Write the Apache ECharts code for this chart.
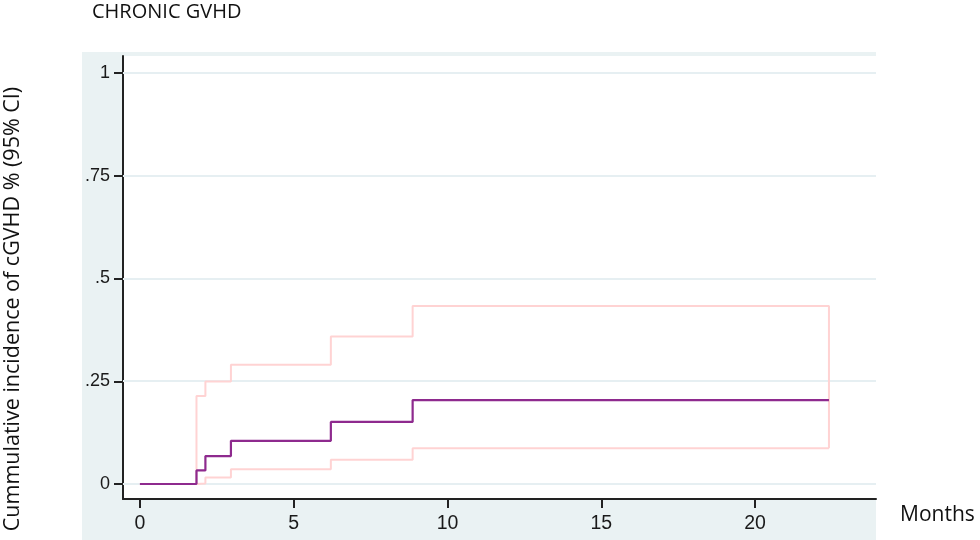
<!DOCTYPE html>
<html>
<head>
<meta charset="utf-8">
<script src="https://cdn.jsdelivr.net/npm/echarts@6/dist/echarts.min.js"></script>
<style>html,body{margin:0;padding:0;background:#fff}#c{width:980px;height:540px}</style>
</head>
<body>
<div id="c"></div>
<script>
// Step times (months) and values
const times = [0, 1.84, 2.13, 2.96, 6.21, 8.87, 22.41];
const cif   = [0, 0.033, 0.068, 0.105, 0.151, 0.204, 0.204];
const upper = [0, 0.214, 0.249, 0.290, 0.359, 0.433, 0.433];
const lower = [0, 0.001, 0.016, 0.036, 0.059, 0.087, 0.087];
const xTicks = [0, 5, 10, 15, 20];
const yTicks = [0, 0.25, 0.5, 0.75, 1];
const yTickLabels = ['0', '.25', '.5', '.75', '1'];

const pairs = (xs, ys) => xs.map((x, i) => [x, ys[i]]);
// CI outline: upper path, then vertical drop at the end to the lower path end
const upperPath = pairs(times, upper).concat([[times[times.length - 1], lower[lower.length - 1]]]);
const lowerPath = pairs(times, lower);

const chart = echarts.init(document.getElementById('c'), null, {renderer: 'canvas'});
const axisColor = '#222';
const xLabelStyle = {fontSize: 19.5, fontFamily: 'Liberation Sans', color: '#1a1a1a'};
const yLabelStyle = {fontSize: 18, fontFamily: 'Liberation Sans', color: '#1a1a1a'};
chart.setOption({
  animation: false,
  backgroundColor: '#ffffff',
  textStyle: {fontFamily: 'Liberation Sans'},
  graphic: [
    {type: 'rect', left: 82, top: 52, shape: {width: 794, height: 488}, style: {fill: '#EAF2F3'}, z: -10},
    {type: 'text', left: 92, top: 2, style: {text: 'CHRONIC GVHD', font: '20px "Open Sans"', fill: '#111'}},
    {type: 'text', left: 900, top: 505, style: {text: 'Months', font: '21px "Open Sans"', fill: '#111'}},
    {type: 'text', x: 13, y: 309, rotation: Math.PI / 2,
     style: {text: 'Cummulative incidence of cGVHD % (95% CI)', font: '21.5px "Open Sans"', fill: '#111', align: 'center', verticalAlign: 'middle'}}
  ],
  grid: [
    // plotting region (white), full data extent incl. margins
    {left: 123, right: 104, top: 56, bottom: 41, show: true, backgroundColor: '#ffffff', borderWidth: 0},
    // tick/label frame spanning exactly the tick range
    {left: 140, right: 225, top: 73, bottom: 56, show: false}
  ],
  xAxis: [
    {gridIndex: 0, type: 'value', min: -0.55, max: 23.94,
     axisLine: {show: true, onZero: false, lineStyle: {color: axisColor, width: 2}},
     axisTick: {show: false}, axisLabel: {show: false}, splitLine: {show: false}},
    {gridIndex: 1, type: 'value', min: xTicks[0], max: xTicks[xTicks.length - 1], interval: 5, offset: 15,
     axisLine: {show: false, onZero: false},
     axisTick: {show: true, length: 9, lineStyle: {color: axisColor, width: 2}},
     axisLabel: Object.assign({show: true, margin: 15, textStyle: xLabelStyle}, xLabelStyle),
     splitLine: {show: false}}
  ],
  yAxis: [
    {gridIndex: 0, type: 'value', min: -0.0365, max: 1.041,
     axisLine: {show: true, onZero: false, lineStyle: {color: axisColor, width: 2}},
     axisTick: {show: false}, axisLabel: {show: false}, splitLine: {show: false}},
    {gridIndex: 1, type: 'value', min: yTicks[0], max: yTicks[yTicks.length - 1], interval: 0.25, offset: 17,
     axisLine: {show: false, onZero: false},
     axisTick: {show: true, length: 9, lineStyle: {color: axisColor, width: 2}},
     axisLabel: Object.assign({show: true, margin: 13, textStyle: yLabelStyle,
       formatter: v => { const i = yTicks.findIndex(t => Math.abs(t - v) < 1e-9); return i >= 0 ? yTickLabels[i] : ''; }}, yLabelStyle),
     splitLine: {show: false}}
  ],
  series: [
    {
      type: 'line', name: 'grid', data: [], silent: true, z: 1, xAxisIndex: 0, yAxisIndex: 0,
      markLine: {silent: true, symbol: 'none', label: {show: false}, z: 1,
        lineStyle: {color: '#E6EFF2', width: 2, type: 'solid'},
        data: yTicks.map(v => ({yAxis: v}))}
    },
    {type: 'line', name: 'upper', data: upperPath, step: 'end', showSymbol: false, xAxisIndex: 0, yAxisIndex: 0,
     lineStyle: {color: '#FFD3D3', width: 2}, z: 3},
    {type: 'line', name: 'lower', data: lowerPath, step: 'end', showSymbol: false, xAxisIndex: 0, yAxisIndex: 0,
     lineStyle: {color: '#FFD3D3', width: 2}, z: 3},
    {type: 'line', name: 'cif', data: pairs(times, cif), step: 'end', showSymbol: false, xAxisIndex: 0, yAxisIndex: 0,
     lineStyle: {color: '#8E2A8E', width: 2.2}, z: 6}
  ]
});
</script>
</body>
</html>
